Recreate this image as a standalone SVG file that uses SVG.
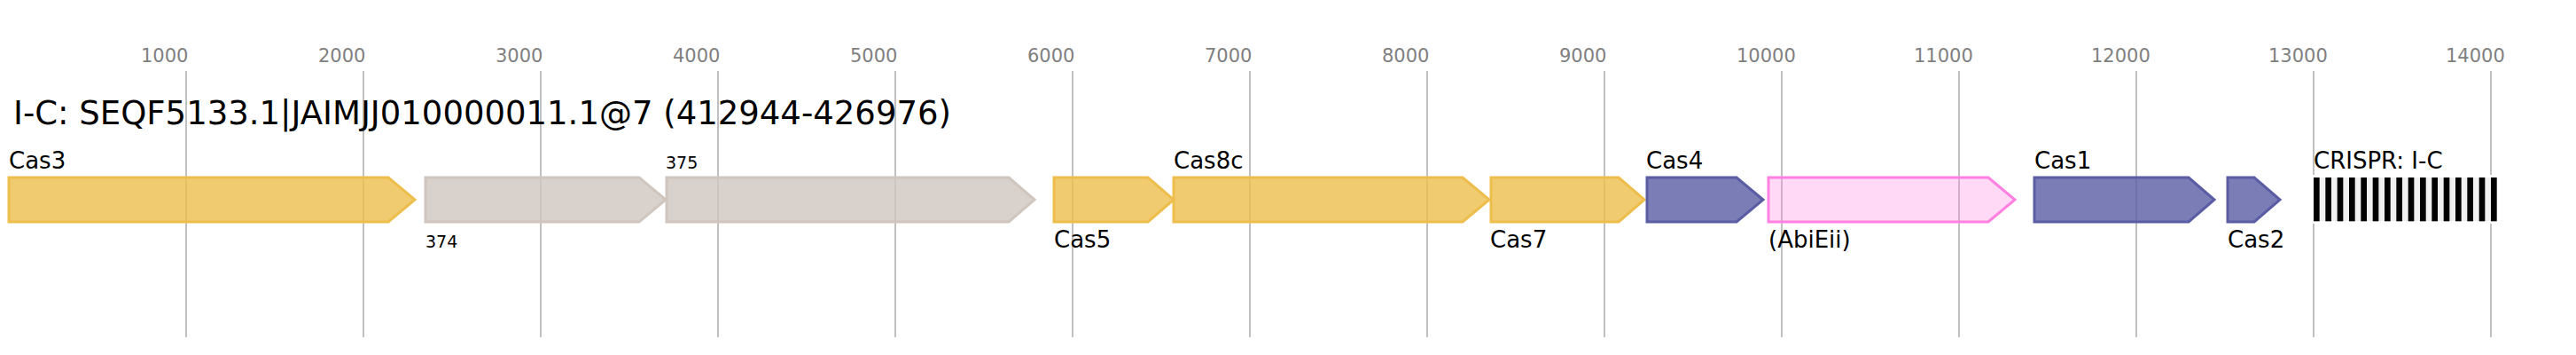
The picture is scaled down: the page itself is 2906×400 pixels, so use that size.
<svg xmlns="http://www.w3.org/2000/svg" width="2906" height="400" viewBox="0 0 2906 400">
<style>
text{font-family:"DejaVu Sans","Liberation Sans",sans-serif;fill:#000}
.tick{font-size:21px;fill:#808080}
.grid{stroke:#c0c0c0;stroke-width:2}
.title{font-size:37px}
.lbl{font-size:26px}
.sm{font-size:19px}
.gene{stroke-width:3;stroke-linejoin:miter;fill-opacity:0.8}
.y{fill:#eebe4c;stroke:#eebe4c}
.g{fill:#d0c6be;stroke:#d0c6be}
.b{fill:#5a5ca4;stroke:#5a5ca4}
.p{fill:#ff80e0;stroke:#ff80e0;fill-opacity:0.3}
.bar{fill:#000}
</style>
<rect width="2906" height="400" fill="#fff"/>
<g id="axis">
<line class="grid" x1="210" y1="80" x2="210" y2="380"/>
<line class="grid" x1="410" y1="80" x2="410" y2="380"/>
<line class="grid" x1="610" y1="80" x2="610" y2="380"/>
<line class="grid" x1="810" y1="80" x2="810" y2="380"/>
<line class="grid" x1="1010" y1="80" x2="1010" y2="380"/>
<line class="grid" x1="1210" y1="80" x2="1210" y2="380"/>
<line class="grid" x1="1410" y1="80" x2="1410" y2="380"/>
<line class="grid" x1="1610" y1="80" x2="1610" y2="380"/>
<line class="grid" x1="1810" y1="80" x2="1810" y2="380"/>
<line class="grid" x1="2010" y1="80" x2="2010" y2="380"/>
<line class="grid" x1="2210" y1="80" x2="2210" y2="380"/>
<line class="grid" x1="2410" y1="80" x2="2410" y2="380"/>
<line class="grid" x1="2610" y1="80" x2="2610" y2="380"/>
<line class="grid" x1="2810" y1="80" x2="2810" y2="380"/>
<text class="tick" x="159" y="70">1000</text>
<text class="tick" x="359" y="70">2000</text>
<text class="tick" x="559" y="70">3000</text>
<text class="tick" x="759" y="70">4000</text>
<text class="tick" x="959" y="70">5000</text>
<text class="tick" x="1159" y="70">6000</text>
<text class="tick" x="1359" y="70">7000</text>
<text class="tick" x="1559" y="70">8000</text>
<text class="tick" x="1759" y="70">9000</text>
<text class="tick" x="1959" y="70">10000</text>
<text class="tick" x="2159" y="70">11000</text>
<text class="tick" x="2359" y="70">12000</text>
<text class="tick" x="2559" y="70">13000</text>
<text class="tick" x="2759" y="70">14000</text>
</g>
<text id="title" class="title" x="15" y="140">I-C: SEQF5133.1|JAIMJJ010000011.1@7 (412944-426976)</text>
<g id="cas3">
<polygon class="gene y" points="10,200 438,200 468,225 438,250 10,250"/>
<text class="lbl" x="10" y="190">Cas3</text>
</g>
<g id="gene374">
<polygon class="gene g" points="480,200 721,200 751,225 721,250 480,250"/>
<text class="sm" x="480" y="279">374</text>
</g>
<g id="gene375">
<polygon class="gene g" points="752,200 1138,200 1167,225 1138,250 752,250"/>
<text class="sm" x="751" y="190">375</text>
</g>
<g id="cas5">
<polygon class="gene y" points="1189,200 1295,200 1324,225 1295,250 1189,250"/>
<text class="lbl" x="1189" y="279">Cas5</text>
</g>
<g id="cas8c">
<polygon class="gene y" points="1324,200 1650,200 1680,225 1650,250 1324,250"/>
<text class="lbl" x="1324" y="190">Cas8c</text>
</g>
<g id="cas7">
<polygon class="gene y" points="1682,200 1826,200 1855,225 1826,250 1682,250"/>
<text class="lbl" x="1681" y="279">Cas7</text>
</g>
<g id="cas4">
<polygon class="gene b" points="1858,200 1959,200 1989,225 1959,250 1858,250"/>
<text class="lbl" x="1857" y="190">Cas4</text>
</g>
<g id="abieii">
<polygon class="gene p" points="1995,200 2243,200 2273,225 2243,250 1995,250"/>
<text class="lbl" x="1995" y="279">(AbiEii)</text>
</g>
<g id="cas1">
<polygon class="gene b" points="2295,200 2469,200 2498,225 2469,250 2295,250"/>
<text class="lbl" x="2295" y="190">Cas1</text>
</g>
<g id="cas2">
<polygon class="gene b" points="2513,200 2543,200 2572,225 2543,250 2513,250"/>
<text class="lbl" x="2513" y="279">Cas2</text>
</g>
<g id="crispr">
<rect x="2608" y="197" width="211" height="55" fill="#fff"/>
<rect x="2610" y="200" width="206.7" height="49.3" fill="#f0f0f0"/>
<rect class="bar" x="2610" y="200" width="6.67" height="49.3"/>
<rect class="bar" x="2623.33" y="200" width="6.67" height="49.3"/>
<rect class="bar" x="2636.67" y="200" width="6.67" height="49.3"/>
<rect class="bar" x="2650" y="200" width="6.67" height="49.3"/>
<rect class="bar" x="2663.33" y="200" width="6.67" height="49.3"/>
<rect class="bar" x="2676.67" y="200" width="6.67" height="49.3"/>
<rect class="bar" x="2690" y="200" width="6.67" height="49.3"/>
<rect class="bar" x="2703.33" y="200" width="6.67" height="49.3"/>
<rect class="bar" x="2716.67" y="200" width="6.67" height="49.3"/>
<rect class="bar" x="2730" y="200" width="6.67" height="49.3"/>
<rect class="bar" x="2743.33" y="200" width="6.67" height="49.3"/>
<rect class="bar" x="2756.67" y="200" width="6.67" height="49.3"/>
<rect class="bar" x="2770" y="200" width="6.67" height="49.3"/>
<rect class="bar" x="2783.33" y="200" width="6.67" height="49.3"/>
<rect class="bar" x="2796.67" y="200" width="6.67" height="49.3"/>
<rect class="bar" x="2810" y="200" width="6.67" height="49.3"/>
<text class="lbl" x="2610" y="190">CRISPR: I-C</text>
</g>
</svg>
